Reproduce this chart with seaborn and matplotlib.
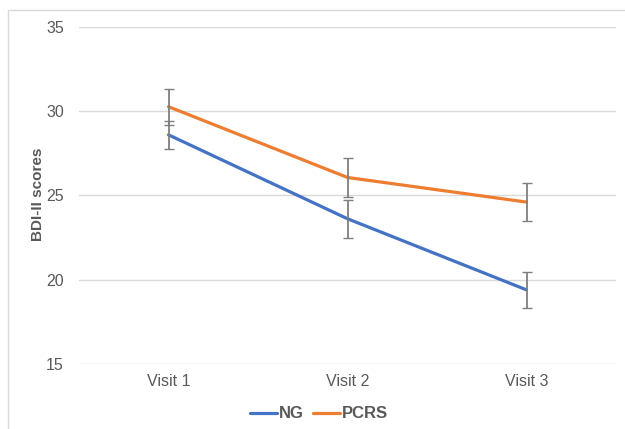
import matplotlib
matplotlib.use("Agg")
import matplotlib.pyplot as plt
import seaborn as sns
import pandas as pd
from matplotlib.patches import Rectangle
from matplotlib.lines import Line2D

visits = ["Visit 1", "Visit 2", "Visit 3"]
ng_mean = [28.6, 23.62, 19.4]
ng_err = [0.85, 1.13, 1.05]
pcrs_mean = [30.27, 26.07, 24.61]
pcrs_err = [1.08, 1.13, 1.14]
y_ticks = [15, 20, 25, 30, 35]

sns.set_theme(style="white")
plt.rcParams["font.family"] = ["Liberation Sans", "DejaVu Sans"]
text_color = "#595959"

df = pd.DataFrame({
    "Visit": visits * 2,
    "Score": ng_mean + pcrs_mean,
    "Group": ["NG"] * 3 + ["PCRS"] * 3,
})
palette = {"NG": "#4472C4", "PCRS": "#ED7D31"}

fig = plt.figure(figsize=(6.25, 4.29), dpi=100)
ax = fig.add_axes([79 / 625, 1 - 364 / 429, (616 - 79) / 625, (364 - 27) / 429])

sns.lineplot(data=df, x="Visit", y="Score", hue="Group", palette=palette,
             linewidth=2.3, sort=False, ax=ax, legend=False, zorder=3)

xpos = list(range(len(visits)))
for m, e in ((ng_mean, ng_err), (pcrs_mean, pcrs_err)):
    ax.errorbar(xpos, m, yerr=e, fmt="none", ecolor="#7F7F7F",
                elinewidth=1.3, capsize=3.5, capthick=1.0, zorder=4)

ax.set_ylim(15, 35)
ax.set_xlim(-0.5, 2.5)
ax.set_yticks(y_ticks)
ax.yaxis.grid(True, color="#D9D9D9", linewidth=1.0)
ax.set_axisbelow(True)
for s in ax.spines.values():
    s.set_visible(False)
ax.tick_params(axis="both", length=0, labelsize=11.5, colors=text_color)
ax.tick_params(axis="y", pad=11)
ax.tick_params(axis="x", pad=7)
ax.set_xlabel("")
ax.set_ylabel("BDI-II scores", fontsize=11, fontweight="bold", color=text_color)
ax.yaxis.set_label_coords((45 - 79) / 537, 0.505)

handles = [Line2D([], [], color=palette["NG"], lw=2.3),
           Line2D([], [], color=palette["PCRS"], lw=2.3)]
leg = fig.legend(handles, ["NG", "PCRS"], loc="center",
                 bbox_to_anchor=(319 / 625, 1 - 414 / 429), ncol=2, frameon=False,
                 handlelength=1.6, handletextpad=0.12, columnspacing=0.6,
                 prop={"weight": "bold", "size": 12})
for t in leg.get_texts():
    t.set_color(text_color)

fig.add_artist(Rectangle((8 / 625, -0.01), 1.0, 1 - 10 / 429 + 0.01,
                         transform=fig.transFigure, fill=False,
                         edgecolor="#D9D9D9", linewidth=1.0))

fig.savefig("out.png", dpi=100)
